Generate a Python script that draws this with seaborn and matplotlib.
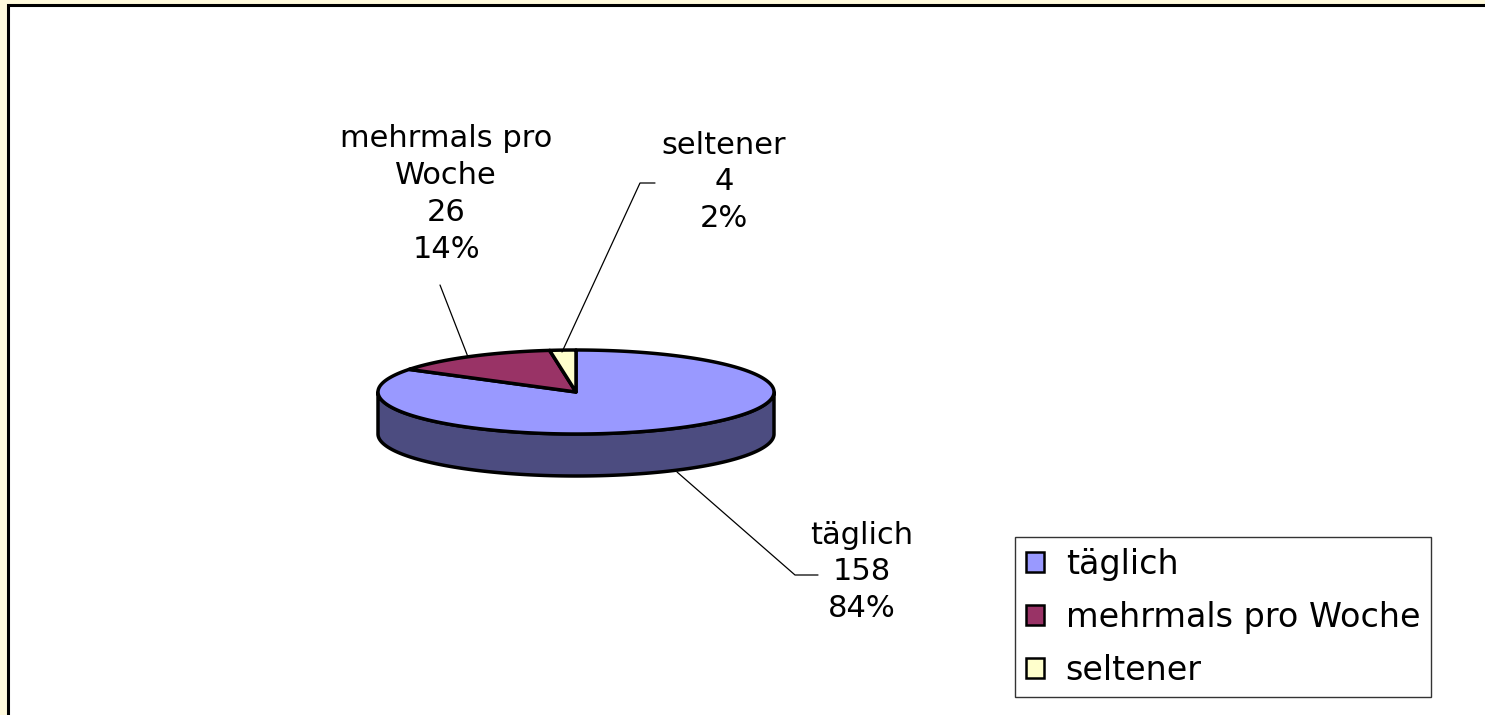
import numpy as np
import matplotlib
matplotlib.use("Agg")
import matplotlib.pyplot as plt
from matplotlib.patches import Polygon, Patch, Rectangle
import seaborn as sns

# ---- data ----
categories = ["täglich", "mehrmals pro Woche", "seltener"]
label_names = ["täglich", "mehrmals pro\nWoche", "seltener"]
values = [158, 26, 4]
top_colors = ["#9999FF", "#993366", "#FFFFCC"]
side_colors = ["#4C4C80", "#4C1933", "#80805F"]

sns.set_style("white")
plt.rcParams["font.family"] = ["DejaVu Sans"]
palette = sns.color_palette(top_colors)
side_palette = sns.color_palette(side_colors)

W, H = 1485, 715
fig = plt.figure(figsize=(W / 100, H / 100), dpi=100)
fig.patch.set_facecolor("#FFFADC")
ax = fig.add_axes([0, 0, 1, 1])
ax.set_xlim(0, W)
ax.set_ylim(H, 0)
ax.axis("off")
ax.set_facecolor("none")

# inner chart area
ax.add_patch(Rectangle((8, 5), W, H, facecolor="white", edgecolor="black", lw=2.2, zorder=0))

# pie geometry (pixels)
cx, cy, rx, ry, depth = 576, 392, 198, 42, 42

total = float(sum(values))
fracs = [v / total for v in values]
bounds = np.concatenate([[0], np.cumsum(fracs) * 360.0])


def pt(theta_deg, dy=0.0):
    t = np.radians(theta_deg)
    return cx + rx * np.sin(t), cy - ry * np.cos(t) + dy


# side walls (visible front half: 90..270 deg clockwise from top)
for i in range(len(values)):
    a, b = bounds[i], bounds[i + 1]
    lo, hi = max(a, 90), min(b, 270)
    if hi <= lo:
        continue
    th = np.linspace(lo, hi, 200)
    top = [pt(t) for t in th]
    bot = [pt(t, depth) for t in th[::-1]]
    ax.add_patch(Polygon(top + bot, closed=True, facecolor=side_palette[i],
                         edgecolor="black", lw=2.5, joinstyle="round", zorder=2))

# top wedges
for i in range(len(values)):
    a, b = bounds[i], bounds[i + 1]
    th = np.linspace(a, b, max(int((b - a) * 2), 10))
    poly = [(cx, cy)] + [pt(t) for t in th]
    ax.add_patch(Polygon(poly, closed=True, facecolor=palette[i],
                         edgecolor="black", lw=2.5, joinstyle="round", zorder=3))

# labels and leader lines
label_pos = [(862, 572), (446, 194), (724, 182)]
leaders = [
    [(677, 472), (795, 575), (818, 575)],
    [(468, 357), (440, 285)],
    [(562, 352), (640, 183), (655, 183)],
]
for i in range(len(values)):
    pct = int(round(fracs[i] * 100))
    txt = f"{label_names[i]}\n{values[i]}\n{pct}%"
    ax.text(label_pos[i][0], label_pos[i][1], txt, ha="center", va="center",
            fontsize=22, linespacing=1.34, color="black", zorder=5)
    xs, ys = zip(*leaders[i])
    ax.plot(xs, ys, color="black", lw=0.9, zorder=4)

# legend
handles = [Patch(facecolor=palette[i], edgecolor="black", lw=1.8) for i in range(len(values))]
leg = fig.legend(handles, categories, loc="upper left",
                 bbox_to_anchor=(1015 / W, 1 - 537 / H), frameon=True, fancybox=False,
                 edgecolor="black", fontsize=24, labelcolor="black",
                 handlelength=0.55, handleheight=0.55,
                 handletextpad=0.65, labelspacing=0.6, borderpad=0.32, borderaxespad=0)
leg.get_frame().set_linewidth(1.0)

fig.savefig("out.png", dpi=100, facecolor=fig.get_facecolor())
